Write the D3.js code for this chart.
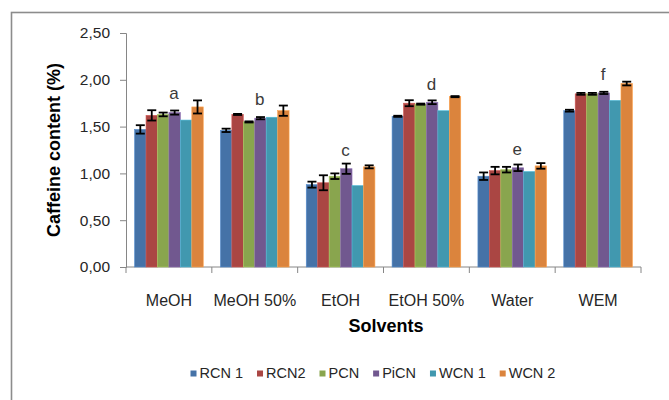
<!DOCTYPE html>
<html>
<head>
<meta charset="utf-8">
<script src="https://cdn.jsdelivr.net/npm/d3@7"></script>
<style>
  html, body { margin: 0; padding: 0; background: #fff; }
  svg { display: block; font-family: "Liberation Sans", Arial, sans-serif; }
</style>
</head>
<body>
<svg id="chart" width="669" height="400"></svg>
<script>
// Solvent categories and sample series
const solvents = ["MeOH", "MeOH 50%", "EtOH", "EtOH 50%", "Water", "WEM"];
const samples = ["RCN 1", "RCN2", "PCN", "PiCN", "WCN 1", "WCN 2"];
const colors = ["#4572A7", "#AA4643", "#89A54E", "#71588F", "#4198AF", "#DB843D"];

// Caffeine content (%) per sample, one value per solvent
const rcn1 = [1.47, 1.46, 0.88, 1.61, 0.97, 1.67];
const rcn2 = [1.62, 1.63, 0.90, 1.75, 1.03, 1.85];
const pcn  = [1.63, 1.55, 0.97, 1.74, 1.04, 1.85];
const picn = [1.65, 1.59, 1.05, 1.76, 1.06, 1.86];
const wcn1 = [1.57, 1.60, 0.87, 1.67, 1.02, 1.78];
const wcn2 = [1.71, 1.67, 1.07, 1.82, 1.08, 1.96];

// Standard deviations (null = no error bar drawn)
const rcn1Err = [0.045, 0.018, 0.032, 0.006, 0.040, 0.010];
const rcn2Err = [0.055, 0.006, 0.080, 0.032, 0.040, 0.010];
const pcnErr  = [0.020, 0.006, 0.030, 0.006, 0.030, 0.010];
const picnErr = [0.022, 0.012, 0.055, 0.020, 0.035, 0.012];
const wcn1Err = [null, null, null, null, null, null];
const wcn2Err = [0.070, 0.055, 0.016, 0.006, 0.030, 0.020];

// Significance letters and the level of their baseline
const letters = ["a", "b", "c", "d", "e", "f"];
const letterLevels = [1.79, 1.73, 1.19, 1.89, 1.20, 2.00];

const yTicks = [0, 0.5, 1.0, 1.5, 2.0, 2.5];

const values = [rcn1, rcn2, pcn, picn, wcn1, wcn2];
const errors = [rcn1Err, rcn2Err, pcnErr, picnErr, wcn1Err, wcn2Err];

const svg = d3.select("#chart");

// Outer chart frame
svg.append("rect")
  .attr("x", 11.5).attr("y", 12.5)
  .attr("width", 700).attr("height", 420)
  .attr("fill", "none").attr("stroke", "#8c8c8c").attr("stroke-width", 1.6);

const plot = { left: 126, right: 641, top: 33, bottom: 267 };

const x0 = d3.scaleBand().domain(solvents).range([plot.left, plot.right]);
const x1 = d3.scaleBand().domain(samples).range([0, x0.bandwidth()]).paddingOuter(0.75);
const y = d3.scaleLinear().domain([0, 2.5]).range([plot.bottom, plot.top]);

const fmt = v => d3.format(".2f")(v).replace(".", ",");

// Y axis
const yAxis = svg.append("g")
  .attr("transform", `translate(${plot.left},0)`)
  .call(d3.axisLeft(y).tickValues(yTicks).tickFormat(fmt).tickSize(6).tickPadding(10));
yAxis.select(".domain").attr("stroke", "#868686");
yAxis.selectAll(".tick line").attr("stroke", "#868686");
yAxis.selectAll(".tick text")
  .attr("font-size", 15.5).attr("fill", "#262626")
  .attr("font-family", "'Liberation Sans', Arial, sans-serif");

// X axis: labels at band centres, tick marks at band boundaries
const xAxis = svg.append("g")
  .attr("transform", `translate(0,${plot.bottom})`)
  .call(d3.axisBottom(x0).tickSize(0).tickPadding(28));
xAxis.select(".domain").attr("stroke", "#868686").attr("d", `M${plot.left},0H${plot.right}`);
xAxis.selectAll(".tick text")
  .attr("font-size", 16).attr("fill", "#262626")
  .attr("font-family", "'Liberation Sans', Arial, sans-serif");
const bounds = solvents.map(s => x0(s)).concat([x0(solvents[solvents.length - 1]) + x0.bandwidth()]);
xAxis.selectAll(".sep").data(bounds).join("line")
  .attr("class", "sep")
  .attr("x1", d => d).attr("x2", d => d)
  .attr("y1", 0).attr("y2", 6)
  .attr("stroke", "#868686");

// Bars
const groups = svg.append("g").selectAll("g").data(solvents).join("g")
  .attr("transform", d => `translate(${x0(d)},0)`);

groups.each(function(solvent, i) {
  const g = d3.select(this);
  samples.forEach((s, j) => {
    const v = values[j][i];
    g.append("rect")
      .attr("x", x1(s)).attr("width", x1.bandwidth())
      .attr("y", y(v)).attr("height", y(0) - y(v))
      .attr("fill", colors[j])
      .attr("stroke", d3.color(colors[j]).brighter(0.6))
      .attr("stroke-width", 0.6);
  });
  samples.forEach((s, j) => {
    const v = values[j][i], e = errors[j][i];
    if (e == null) return;
    const cx = x1(s) + x1.bandwidth() / 2;
    const hw = 4.5;
    const eg = g.append("g").attr("stroke", "#000").attr("stroke-width", 1.8);
    eg.append("line").attr("x1", cx).attr("x2", cx).attr("y1", y(v + e)).attr("y2", y(v - e));
    eg.append("line").attr("x1", cx - hw).attr("x2", cx + hw).attr("y1", y(v + e)).attr("y2", y(v + e));
    eg.append("line").attr("x1", cx - hw).attr("x2", cx + hw).attr("y1", y(v - e)).attr("y2", y(v - e));
  });
});

// Significance letters
svg.append("g").selectAll("text").data(solvents).join("text")
  .attr("x", d => x0(d) + x0.bandwidth() / 2 + 5)
  .attr("y", (d, i) => y(letterLevels[i]))
  .attr("text-anchor", "middle")
  .attr("font-size", 17).attr("fill", "#3a3a3a")
  .text((d, i) => letters[i]);

// Axis titles
svg.append("text")
  .attr("transform", `translate(60,150) rotate(-90)`)
  .attr("text-anchor", "middle")
  .attr("font-size", 18).attr("font-weight", "bold").attr("fill", "#000")
  .text("Caffeine content (%)");

svg.append("text")
  .attr("x", 386).attr("y", 332)
  .attr("text-anchor", "middle")
  .attr("font-size", 18).attr("font-weight", "bold").attr("fill", "#000")
  .text("Solvents");

// Legend
const legend = svg.append("g");
let lx = 190.5;
samples.forEach((s, j) => {
  legend.append("rect")
    .attr("x", lx).attr("y", 370.5).attr("width", 6).attr("height", 6)
    .attr("fill", colors[j]);
  const t = legend.append("text")
    .attr("x", lx + 9).attr("y", 377.5)
    .attr("font-size", 14.5).attr("fill", "#262626")
    .text(s);
  lx += 9 + t.node().getComputedTextLength() + 14;
});
</script>
</body>
</html>
